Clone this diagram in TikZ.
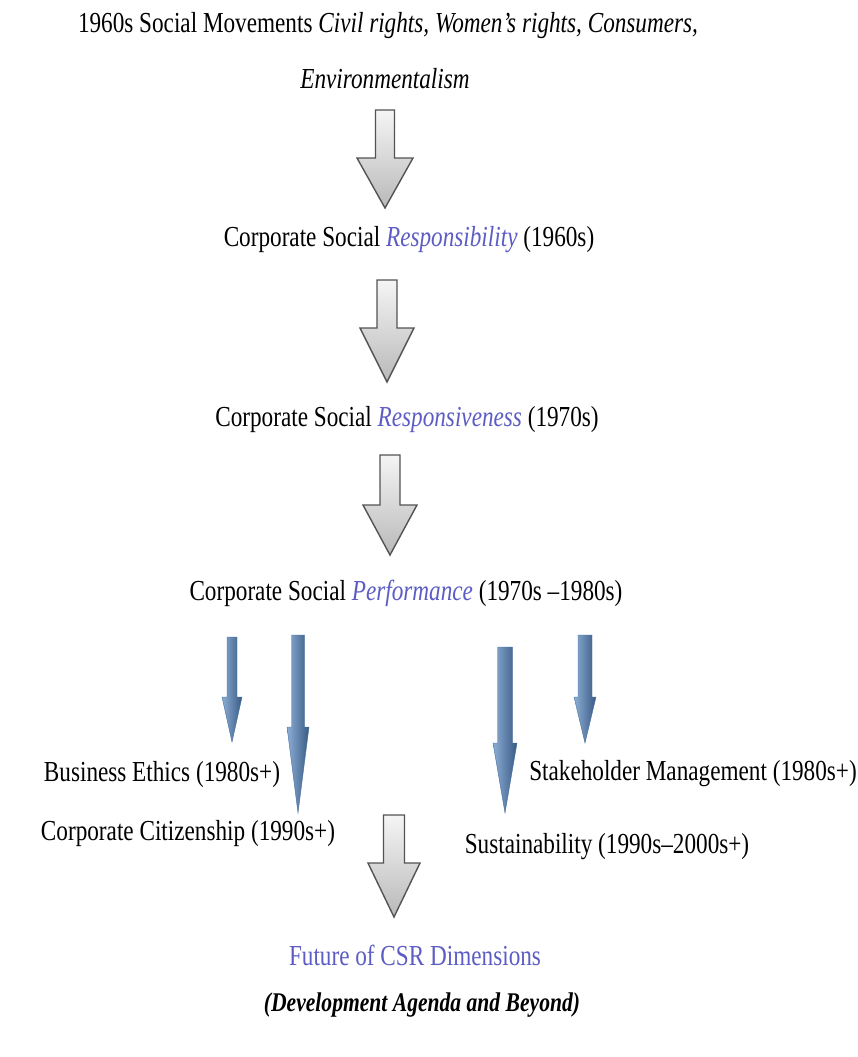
\documentclass[tikz,border=0pt]{standalone}
\usepackage{fontspec}
\setmainfont[FakeStretch=0.8]{Liberation Serif}
\definecolor{csrblue}{RGB}{92,92,196}
\definecolor{arrowblue}{RGB}{79,129,189}
\tikzset{
  txt/.style={inner sep=0pt, anchor=center, font=\fontsize{29}{33}\selectfont},
  grayarrow/.style={top color=gray!8, bottom color=gray!55, draw=gray!65!black, line width=1.4pt, line join=miter},
  bluearrow/.style={left color=arrowblue!65!white, right color=arrowblue!70!black, draw=arrowblue!85!black, line width=0.4pt}
}
\newcommand{\blockarrow}[7]{\path[#1] (#2-#6,#3) -- (#2+#6,#3) -- (#2+#6,#4) -- (#2+#7,#4) -- (#2,#5) -- (#2-#7,#4) -- (#2-#6,#4) -- cycle;}
\begin{document}
\begin{tikzpicture}[x=1pt,y=-1pt]
\useasboundingbox (0,0) rectangle (858,1057);
% texts
\node[txt] (sm) at (388,26) {1960s Social Movements \textit{Civil rights, Women’s rights, Consumers,}};
\node[txt] (env) at (385,79) {\textit{Environmentalism}};
\node[txt] (resp) at (409,240) {Corporate Social \textcolor{csrblue}{\textit{Responsibility}} (1960s)};
\node[txt] (respv) at (407,420) {Corporate Social \textcolor{csrblue}{\textit{Responsiveness}} (1970s)};
\node[txt] (perf) at (406,593) {Corporate Social \textcolor{csrblue}{\textit{Performance}} (1970s –1980s)};
\node[txt] (be) at (162,775) {Business Ethics (1980s+)};
\node[txt] (stk) at (693,774) {Stakeholder Management (1980s+)};
\node[txt] (cc) at (188,834) {Corporate Citizenship (1990s+)};
\node[txt] (sus) at (607,847) {Sustainability (1990s–2000s+)};
\node[txt, text=csrblue] (fut) at (415,955) {Future of CSR Dimensions};
\node[txt, font=\fontsize{27}{31}\selectfont] (dev) at (422,1005) {\textbf{\textit{(Development Agenda and Beyond)}}};
% gray arrows
\blockarrow{grayarrow}{385}{110}{158}{208}{9.5}{28}
\blockarrow{grayarrow}{387}{280}{328}{382}{10}{27}
\blockarrow{grayarrow}{390}{455}{505}{555}{10}{27}
\blockarrow{grayarrow}{394}{815}{863}{917}{10.5}{26}
% blue arrows
\blockarrow{bluearrow}{232}{637}{697}{742}{5}{10}
\blockarrow{bluearrow}{298}{635}{727}{813}{6.5}{11}
\blockarrow{bluearrow}{505}{647}{743}{813}{7.5}{12}
\blockarrow{bluearrow}{585}{635}{697}{743}{7}{11}
\end{tikzpicture}
\end{document}
